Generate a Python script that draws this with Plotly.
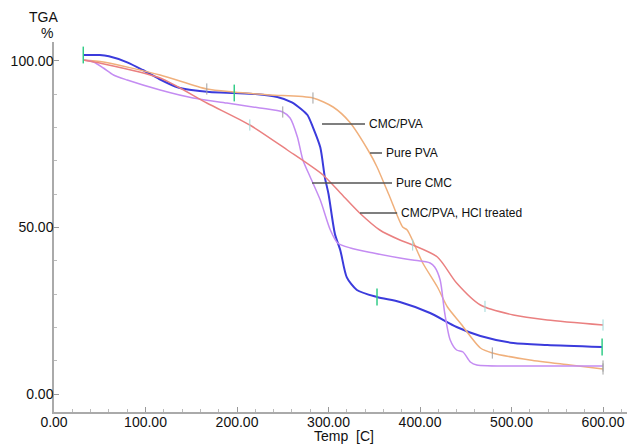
import numpy as np
import plotly.graph_objects as go

# ---- data ----
temp_cmc_pva = [32, 50, 60, 80, 97, 115, 134, 150, 170, 197, 220, 244, 260, 270, 277, 283, 291, 296,
                300, 307, 313, 320, 331, 353, 378, 411, 440, 466, 502, 539, 599]
mass_cmc_pva = [101.7, 101.7, 101.3, 99.5, 97.2, 94.5, 92.1, 91.2, 90.6, 90.3, 90.0, 89.1, 87.5, 85.5,
                83.7, 80.0, 74.0, 65.0, 60.0, 48.0, 43.0, 35.0, 31.2, 29.1, 27.6, 24.3, 20.1, 17.4,
                15.3, 14.7, 14.1]

temp_pva = [32, 54, 116, 167, 196, 236, 283, 305, 323, 345, 353, 367, 381, 386, 403, 419, 430, 444,
            466, 479, 520, 564, 600]
mass_pva = [100.2, 99.6, 95.7, 91.5, 90.6, 89.7, 88.8, 86.1, 81.6, 72.3, 68.1, 59.1, 50.1, 49.2, 39.3,
            32.1, 26.1, 21.3, 13.8, 12.3, 10.2, 8.7, 7.5]

temp_cmc = [32, 43, 54, 65, 80, 116, 152, 189, 225, 250, 258, 266, 272, 280, 291, 302, 310, 324,
            349, 378, 392, 411, 416, 422, 427, 433, 440, 447, 455, 462, 531, 600]
mass_cmc = [100.2, 99.6, 97.8, 95.7, 94.2, 91.2, 88.8, 87.3, 85.8, 84.6, 82.8, 77.1, 70.2, 65.1, 58.2,
            49.2, 45.3, 43.8, 42.3, 40.8, 40.2, 39.3, 38.1, 34.2, 24.3, 16.2, 13.2, 12.6, 9.6, 8.7,
            8.4, 8.4]

temp_hcl = [32, 50, 116, 167, 214, 255, 294, 313, 334, 356, 378, 392, 419, 440, 466, 502, 539, 600]
mass_hcl = [100.2, 99.3, 94.8, 87.3, 80.7, 73.2, 65.7, 60.3, 54.3, 49.2, 46.2, 44.7, 41.1, 33.3, 26.7,
            23.7, 22.2, 20.7]

labels = ["CMC/PVA", "Pure PVA", "Pure CMC", "CMC/PVA, HCl treated"]
x_ticks = [0, 100, 200, 300, 400, 500, 600]
y_ticks = [0, 50, 100]

# marker temperatures on each curve
mk_cmc_pva = [32, 197, 353, 599]
mk_pva = [167, 283, 479, 600]
mk_cmc = [250, 600]
mk_hcl = [214, 392, 471, 600]

series = [
    (temp_cmc_pva, mass_cmc_pva, "#3b3bdc", 2.0, mk_cmc_pva, "#33cc88"),
    (temp_pva, mass_pva, "#f0b07c", 1.5, mk_pva, "#a0a0a0"),
    (temp_cmc, mass_cmc, "#c48cf2", 1.5, mk_cmc, "#a0a0a0"),
    (temp_hcl, mass_hcl, "#ea8080", 1.5, mk_hcl, "#9fd8d8"),
]

fig = go.Figure()
for (t, m, col, w, mk, mcol), name in zip(series, labels):
    fig.add_trace(go.Scatter(x=t, y=m, mode="lines", name=name,
                             line=dict(color=col, width=w, shape="spline", smoothing=0.7)))
for (t, m, col, w, mk, mcol), name in zip(series, labels):
    fig.add_trace(go.Scatter(x=mk, y=np.interp(mk, t, m), mode="markers", name=name + " marks",
                             marker=dict(symbol="line-ns", size=8 if mcol != "#33cc88" else 12,
                                         line=dict(color=mcol, width=1.5 if mcol == "#33cc88" else 1))))

# leader lines + labels (data coords)
leaders = [
    (292.9, 339.9, 81.0, "CMC/PVA"),
    (345.4, 358.5, 72.3, "Pure PVA"),
    (282.0, 369.4, 63.3, "Pure CMC"),
    (334.4, 375.0, 54.3, "CMC/PVA, HCl treated"),
]
for x0, x1, yv, txt in leaders:
    fig.add_shape(type="line", x0=x0, x1=x1, y0=yv, y1=yv, xref="x", yref="y",
                  line=dict(color="#555555", width=1.5))
    fig.add_annotation(x=x1, y=yv, xref="x", yref="y", text=txt, showarrow=False,
                       xanchor="left", yanchor="middle", xshift=2,
                       font=dict(size=12, color="#111111"))

font_family = "Liberation Sans, Arial, Helvetica, sans-serif"
fig.add_annotation(x=-0.0175, y=1.0676, xref="paper", yref="paper", text="TGA", showarrow=False,
                   xanchor="center", yanchor="middle", font=dict(size=14, color="#111111"))
fig.add_annotation(x=-0.012, y=1.0243, xref="paper", yref="paper", text="%", showarrow=False,
                   xanchor="center", yanchor="middle", font=dict(size=14, color="#111111"))
fig.add_annotation(x=0.506, y=-0.064, xref="paper", yref="paper", text="Temp  [C]", showarrow=False,
                   xanchor="center", yanchor="middle", font=dict(size=14, color="#111111"))

fig.update_layout(
    width=627, height=444,
    margin=dict(l=54, r=0, t=42, b=32),
    paper_bgcolor="white", plot_bgcolor="white",
    showlegend=False,
    font=dict(family=font_family, size=14, color="#111111"),
    xaxis=dict(range=[0, 626.2], tickvals=x_ticks, tickformat=".2f", ticks="inside", ticklen=5,
               tickcolor="#999999", showline=True, linecolor="#aaaaaa", linewidth=1.5,
               showgrid=False, zeroline=False, ticklabelstandoff=-4,
               minor=dict(dtick=20, ticks="inside", ticklen=3, tickcolor="#bbbbbb"),
               tickfont=dict(size=14)),
    yaxis=dict(range=[-5.4, 105.6], tickvals=y_ticks, tickformat=".2f", ticks="inside", ticklen=5,
               tickcolor="#999999", showline=True, linecolor="#aaaaaa", linewidth=1.5,
               showgrid=False, zeroline=False, ticklabelstandoff=-4,
               minor=dict(dtick=10, ticks="inside", ticklen=3, tickcolor="#bbbbbb"),
               tickfont=dict(size=14)),
)

fig.write_html("out.html")
